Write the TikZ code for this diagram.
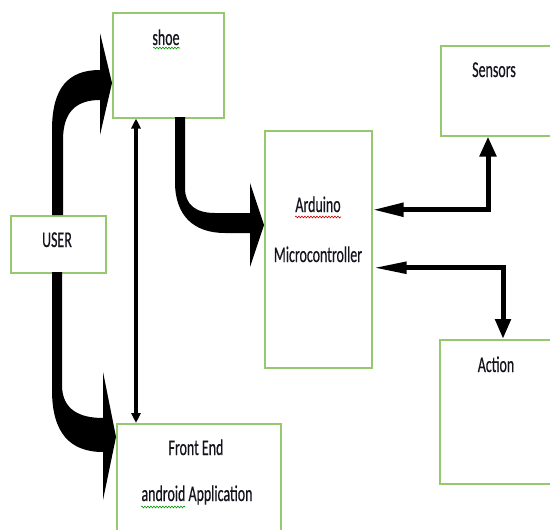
\documentclass[tikz,border=0pt]{standalone}
\usepackage{fontspec}
\setmainfont{Carlito}
\newfontfamily\lblfont{Carlito}[FakeBold=0.6]
\usetikzlibrary{arrows.meta,decorations.pathmorphing}
\definecolor{boxgreen}{RGB}{150,200,112}
\definecolor{txt}{RGB}{20,20,30}
\tikzset{
  box/.style={draw=boxgreen, line width=1.5pt, fill=white, anchor=north west, inner sep=0pt},
  lbl/.style={anchor=base, inner sep=0pt, text=txt, font=\lblfont\fontsize{22.5}{26}\selectfont},
  blockarrow/.style={fill=black, draw=none},
  conn/.style={line width=5pt, draw=black},
  thinconn/.style={line width=3.5pt, draw=black},
  squig/.style={decorate, decoration={snake, amplitude=0.9pt, segment length=3pt}, line width=0.6pt}
}
\newcommand{\nar}[1]{\scalebox{0.62}[1]{#1}}
\begin{document}
\begin{tikzpicture}[x=1pt,y=-1pt]
\clip (0,0) rectangle (550,530);
\fill[white] (0,0) rectangle (550,530);

% boxes
\node[box, minimum width=111pt, minimum height=105pt] (shoe) at (112,12) {};
\node[box, minimum width=95pt, minimum height=57pt] (user) at (10,215) {};
\node[box, minimum width=107pt, minimum height=237pt] (ard) at (264,130) {};
\node[box, minimum width=130pt, minimum height=90pt] (sens) at (440,45) {};
\node[box, minimum width=130pt, minimum height=144pt] (act) at (439,339) {};
\node[box, minimum width=164pt, minimum height=130pt] (fe) at (116,423) {};

% labels
\node[lbl] (tshoe) at (166,45) {\nar{shoe}};
\node[lbl] (tuser) at (57,247) {\nar{USER}};
\node[lbl] (tard) at (318,212) {\nar{Arduino}};
\node[lbl] (tmc) at (318,262) {\nar{Microcontroller}};
\node[lbl] (tsens) at (494,77) {\nar{Sensors}};
\node[lbl] (tact) at (496,372) {\nar{Action}};
\node[lbl] (tfe) at (196,455) {\nar{Front End}};
\node[lbl] (tand) at (197,501) {\nar{android Application}};

% spell-check squiggles
\draw[squig, green!60!black] (153,48) -- (180,48);
\draw[squig, red!80!black] (295,217) -- (341,217);
\draw[squig, green!60!black] (141,507) -- (185,507);

% block arrows
\path[blockarrow] (52,215) -- (52,130) .. controls (52,88) and (68,70) .. (100,70)
  -- (100,33) -- (112,83) -- (100,135) -- (100,100)
  .. controls (76,100) and (63,112) .. (63,140) -- (63,215) -- cycle;
\path[blockarrow] (175,117) -- (175,182) .. controls (175,215) and (193,233) .. (225,233)
  -- (250,233) -- (250,267) -- (264,225) -- (250,183) -- (250,213) -- (215,213)
  .. controls (196,213) and (185,205) .. (185,188) -- (185,117) -- cycle;
\path[blockarrow] (52,272) -- (52,390) .. controls (52,433) and (70,452) .. (103,452)
  -- (103,500) -- (116,437) -- (103,372) -- (103,418)
  .. controls (80,418) and (62,410) .. (62,385) -- (62,272) -- cycle;

% connectors
\draw[thinconn, {Triangle[length=10pt,width=9pt]}-{Triangle[length=10pt,width=9pt]}]
  ([xshift=24pt]shoe.south west) -- ([xshift=24pt]shoe.south west |- fe.north);
\draw[conn, {Triangle[length=31pt,width=13pt]}-{Triangle[length=20pt,width=16pt]}]
  ([yshift=39.5pt]ard.east) -| ([xshift=48pt]sens.south west);
\draw[conn, {Triangle[length=34pt,width=11pt]}-{Triangle[length=20pt,width=15pt]}]
  ([yshift=-18.5pt]ard.east) -| ([xshift=64pt]act.north west);
\end{tikzpicture}
\end{document}
